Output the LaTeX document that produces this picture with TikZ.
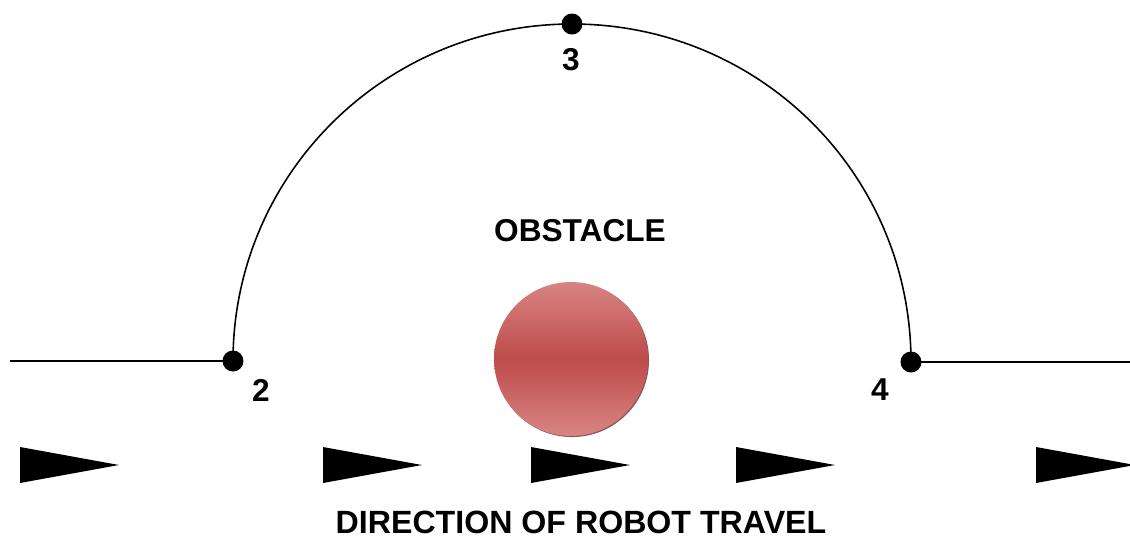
\documentclass[tikz,border=0pt]{standalone}
\usepackage{fontspec}
\setmainfont{Liberation Sans}
\usetikzlibrary{shadows}
\definecolor{obstmid}{RGB}{190,76,74}
\definecolor{obstedge}{RGB}{216,132,132}
\begin{document}
\begin{tikzpicture}[
    x=0.02cm, y=-0.02cm,
    waypoint/.style={circle, fill=black, inner sep=0pt, minimum size=0.42cm},
    lbl/.style={font=\bfseries\fontsize{18}{20}\selectfont, inner sep=1pt},
    path/.style={line width=0.9pt}
]
    \useasboundingbox (0,0) rectangle (1130,539);
    % path around the obstacle
    \coordinate (start) at (10,361);
    \coordinate (finish) at (1135,362);
    \node[waypoint] (p2) at (233,361) {};
    \node[waypoint] (p3) at (572,24) {};
    \node[waypoint] (p4) at (911,362) {};
    \draw[path] (start) -- (p2.center);
    \draw[path] (p2.center) to[out=90, in=180] (p3.center) to[out=0, in=90] (p4.center);
    \draw[path] (p4.center) -- (finish);
    \node[lbl] (l2) at (261,390) {2};
    \node[lbl] (l3) at (571,60) {3};
    \node[lbl] (l4) at (880,390) {4};
    % obstacle
    \node[lbl] (otext) at (580,231) {OBSTACLE};
    \node[circle, minimum size=3.08cm, inner sep=0pt,
          top color=obstedge, bottom color=obstedge, middle color=obstmid,
          drop shadow={shadow xshift=0.6pt, shadow yshift=-0.6pt, fill=obstmid!60!black, opacity=0.8}]
          (obst) at (571,359) {};
    % direction markers
    \foreach \x in {20,323,531,736,1036}
        \fill (\x,447) -- ++(99,18) -- ++(-99,18) -- cycle;
    \node[lbl, inner sep=0pt, font=\bfseries\fontsize{18.3}{20}\selectfont] (dtext) at (581,522) {DIRECTION OF ROBOT TRAVEL};
\end{tikzpicture}
\end{document}
